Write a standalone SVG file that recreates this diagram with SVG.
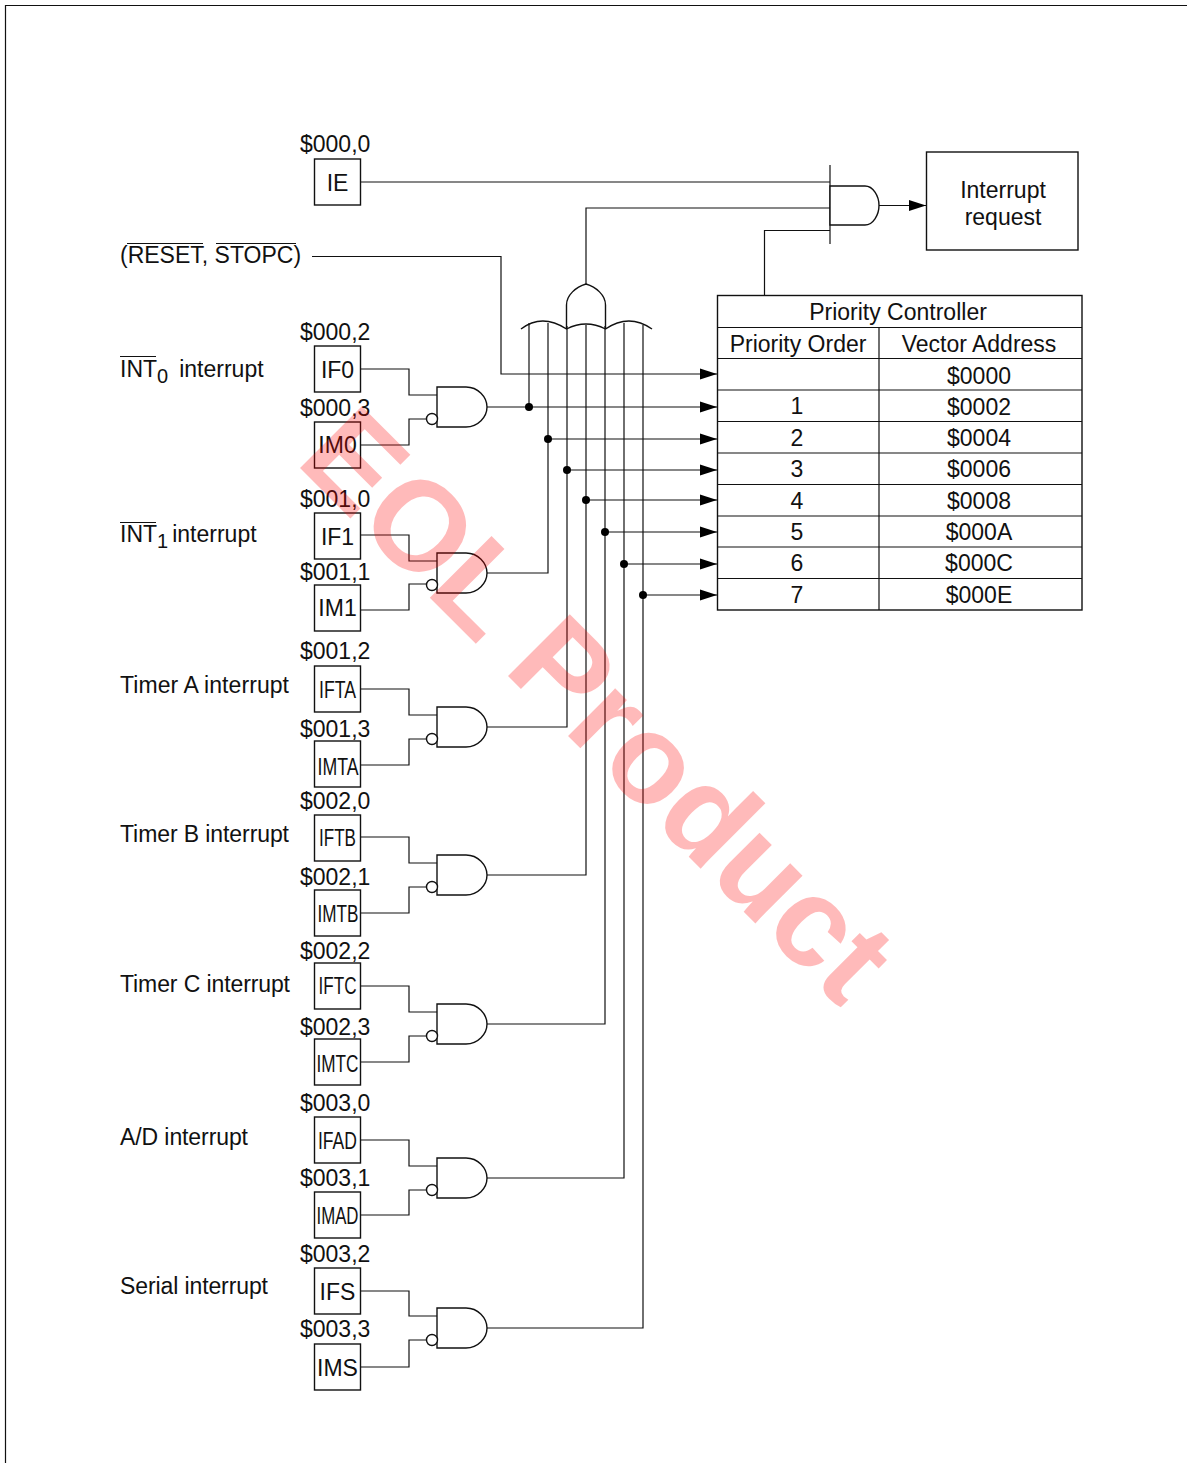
<svg xmlns="http://www.w3.org/2000/svg" width="1187" height="1463" viewBox="0 0 1187 1463">
<style>
text{font-family:"Liberation Sans",Arial,sans-serif;font-size:23px;fill:#111}
.m{text-anchor:middle}
.w,.box{fill:none;stroke:#111;stroke-width:1.2}
.box,.g{fill:#fff;stroke:#111;stroke-width:1.4}
.o{stroke:#111;stroke-width:1.2}
.d{fill:#000}
.wm{font-family:"Liberation Sans",Arial,sans-serif;font-weight:bold;font-size:127px;fill:#ff0000;fill-opacity:.27}
</style>
<defs>
<marker id="arr" markerUnits="userSpaceOnUse" markerWidth="17" markerHeight="12" refX="17" refY="6" orient="auto"><path d="M0 .5L17 6L0 11.5Z" fill="#000"/></marker>
<g id="gate"><path class="g" d="M437-20H466C478-20 487-10 487 0C487 10 478 20 466 20H437Z"/><circle class="g" cx="432" cy="12" r="5.5"/></g>
</defs>
<path class="w" d="M1187 5.500H5.500V1463"/>

<g id="connectors" class="w">
<path d="M361 182H830"/>
<path d="M586 284V208H830"/>
<path d="M764.500 295V230.500H830"/>
<path d="M879 205.500H926" marker-end="url(#arr)"/>
<path d="M312 256.500H501V374H717" marker-end="url(#arr)"/>
<path d="M487 407H717" marker-end="url(#arr)"/>
<path d="M548 439H717" marker-end="url(#arr)"/>
<path d="M567 470H717" marker-end="url(#arr)"/>
<path d="M586 500H717" marker-end="url(#arr)"/>
<path d="M605 532H717" marker-end="url(#arr)"/>
<path d="M624 564H717" marker-end="url(#arr)"/>
<path d="M643 595H717" marker-end="url(#arr)"/>
<path d="M529 323V407"/>
<path d="M548 323V573H487"/>
<path d="M567 326V727H487"/>
<path d="M586 325V875H487"/>
<path d="M605 326V1024H487"/>
<path d="M624 323V1178H487"/>
<path d="M643 325V1328H487"/>
<path d="M361 369H409V395H437M361 445H409V419H427"/>
<path d="M361 535H409V561H437M361 610H409V584H427"/>
<path d="M361 689H409V715H437M361 765H409V739H427"/>
<path d="M361 837H409V863H437M361 913H409V887H427"/>
<path d="M361 986H409V1012H437M361 1062H409V1036H427"/>
<path d="M361 1140H409V1166H437M361 1215H409V1190H427"/>
<path d="M361 1291H409V1316H437M361 1367H409V1340H427"/>
<circle class="d" cx="529" cy="407" r="4" stroke="none"/>
<circle class="d" cx="548" cy="439" r="4" stroke="none"/>
<circle class="d" cx="567" cy="470" r="4" stroke="none"/>
<circle class="d" cx="586" cy="500" r="4" stroke="none"/>
<circle class="d" cx="605" cy="532" r="4" stroke="none"/>
<circle class="d" cx="624" cy="564" r="4" stroke="none"/>
<circle class="d" cx="643" cy="595" r="4" stroke="none"/>
</g>

<g id="or-gate"><path class="w" style="stroke-width:1.4" d="M521 329Q542 313 566.500 329Q586 319 605.500 329Q629 313 652 329M566.500 329V305C566.500 295 576 287 586 284C596 287 605.500 295 605.500 305V329"/></g>

<g id="and-main"><path class="o" d="M830 165V244" fill="none"/><path class="g" d="M830 186H865C873 186 879 196 879 205.500C879 215 873 225 865 225H830Z"/></g>

<g id="interrupt-request"><rect class="box" x="926.500" y="152" width="151.500" height="98"/><text class="m" x="1003" y="198">Interrupt</text><text class="m" x="1003" y="225">request</text></g>

<g id="priority-controller"><rect class="box" x="717.500" y="295.500" width="364.500" height="314.500"/>
<path class="w" d="M717 327.500H1082M717 358.500H1082M717 390H1082M717 421.500H1082M717 453H1082M717 484.500H1082M717 516H1082M717 547H1082M717 578.500H1082M879 327.500V610"/>
<text class="m" x="898" y="320">Priority Controller</text><text class="m" x="798" y="352">Priority Order</text><text class="m" x="979" y="352">Vector Address</text>
<text class="m" x="979" y="384">$0000</text>
<text class="m" x="797" y="414">1</text><text class="m" x="979" y="415">$0002</text>
<text class="m" x="797" y="446">2</text><text class="m" x="979" y="446">$0004</text>
<text class="m" x="797" y="477">3</text><text class="m" x="979" y="477">$0006</text>
<text class="m" x="797" y="509">4</text><text class="m" x="979" y="509">$0008</text>
<text class="m" x="797" y="540">5</text><text class="m" x="979" y="540">$000A</text>
<text class="m" x="797" y="571">6</text><text class="m" x="979" y="571">$000C</text>
<text class="m" x="797" y="603">7</text><text class="m" x="979" y="603">$000E</text></g>

<g id="ie"><text x="300" y="152">$000,0</text><rect class="box" x="314.500" y="159" width="46" height="46"/><text class="m" x="337.500" y="191">IE</text></g>
<g id="reset-label"><text x="120" y="263">(RESET, STOPC)</text><path class="w" d="M127 243.500H203M216 243.500H296"/></g>

<g id="int0"><text x="120" y="377">INT<tspan font-size="20" dy="6">0</tspan><tspan dy="-6" dx="11">interrupt</tspan></text><path class="w" d="M120 356.500H156"/><text x="300" y="340">$000,2</text><rect class="box" x="314.500" y="346" width="46" height="46"/><text class="m" x="337.500" y="378">IF0</text><text x="300" y="416">$000,3</text><rect class="box" x="314.500" y="422" width="46" height="46"/><text class="m" x="337.500" y="453">IM0</text><use href="#gate" y="407"/></g>
<g id="int1"><text x="120" y="542">INT<tspan font-size="20" dy="6">1</tspan><tspan dy="-6" dx="4">interrupt</tspan></text><path class="w" d="M120 522.500H156"/><text x="300" y="507">$001,0</text><rect class="box" x="314.500" y="513" width="46" height="46"/><text class="m" x="337.500" y="545">IF1</text><text x="300" y="580">$001,1</text><rect class="box" x="314.500" y="585" width="46" height="46"/><text class="m" x="337.500" y="616">IM1</text><use href="#gate" y="573"/></g>
<g id="timer-a"><text x="120" y="693" textLength="169">Timer A interrupt</text><text x="300" y="659">$001,2</text><rect class="box" x="314.500" y="666" width="46" height="46"/><text x="319" y="698" textLength="37" lengthAdjust="spacingAndGlyphs">IFTA</text><text x="300" y="737">$001,3</text><rect class="box" x="314.500" y="741" width="46" height="46"/><text x="317.500" y="775" textLength="41" lengthAdjust="spacingAndGlyphs">IMTA</text><use href="#gate" y="727"/></g>
<g id="timer-b"><text x="120" y="842" textLength="169">Timer B interrupt</text><text x="300" y="809">$002,0</text><rect class="box" x="314.500" y="815" width="46" height="46"/><text x="319" y="846" textLength="37" lengthAdjust="spacingAndGlyphs">IFTB</text><text x="300" y="885">$002,1</text><rect class="box" x="314.500" y="890" width="46" height="46"/><text x="317.500" y="922" textLength="41" lengthAdjust="spacingAndGlyphs">IMTB</text><use href="#gate" y="875"/></g>
<g id="timer-c"><text x="120" y="992" textLength="170">Timer C interrupt</text><text x="300" y="959">$002,2</text><rect class="box" x="314.500" y="963" width="46" height="46"/><text x="318.500" y="994" textLength="38" lengthAdjust="spacingAndGlyphs">IFTC</text><text x="300" y="1035">$002,3</text><rect class="box" x="314.500" y="1039" width="46" height="46"/><text x="316.500" y="1072" textLength="42" lengthAdjust="spacingAndGlyphs">IMTC</text><use href="#gate" y="1024"/></g>
<g id="ad"><text x="120" y="1145" textLength="128">A/D interrupt</text><text x="300" y="1111">$003,0</text><rect class="box" x="314.500" y="1117" width="46" height="46"/><text x="318" y="1149" textLength="39" lengthAdjust="spacingAndGlyphs">IFAD</text><text x="300" y="1186">$003,1</text><rect class="box" x="314.500" y="1192" width="46" height="46"/><text x="316.500" y="1224" textLength="42" lengthAdjust="spacingAndGlyphs">IMAD</text><use href="#gate" y="1178"/></g>
<g id="serial"><text x="120" y="1294" textLength="148">Serial interrupt</text><text x="300" y="1262">$003,2</text><rect class="box" x="314.500" y="1268" width="46" height="46"/><text class="m" x="337.500" y="1300">IFS</text><text x="300" y="1337">$003,3</text><rect class="box" x="314.500" y="1344" width="46" height="46"/><text class="m" x="337.500" y="1376">IMS</text><use href="#gate" y="1328"/></g>

<text class="wm" transform="translate(294 462) rotate(45)">EOL Product</text>
</svg>
